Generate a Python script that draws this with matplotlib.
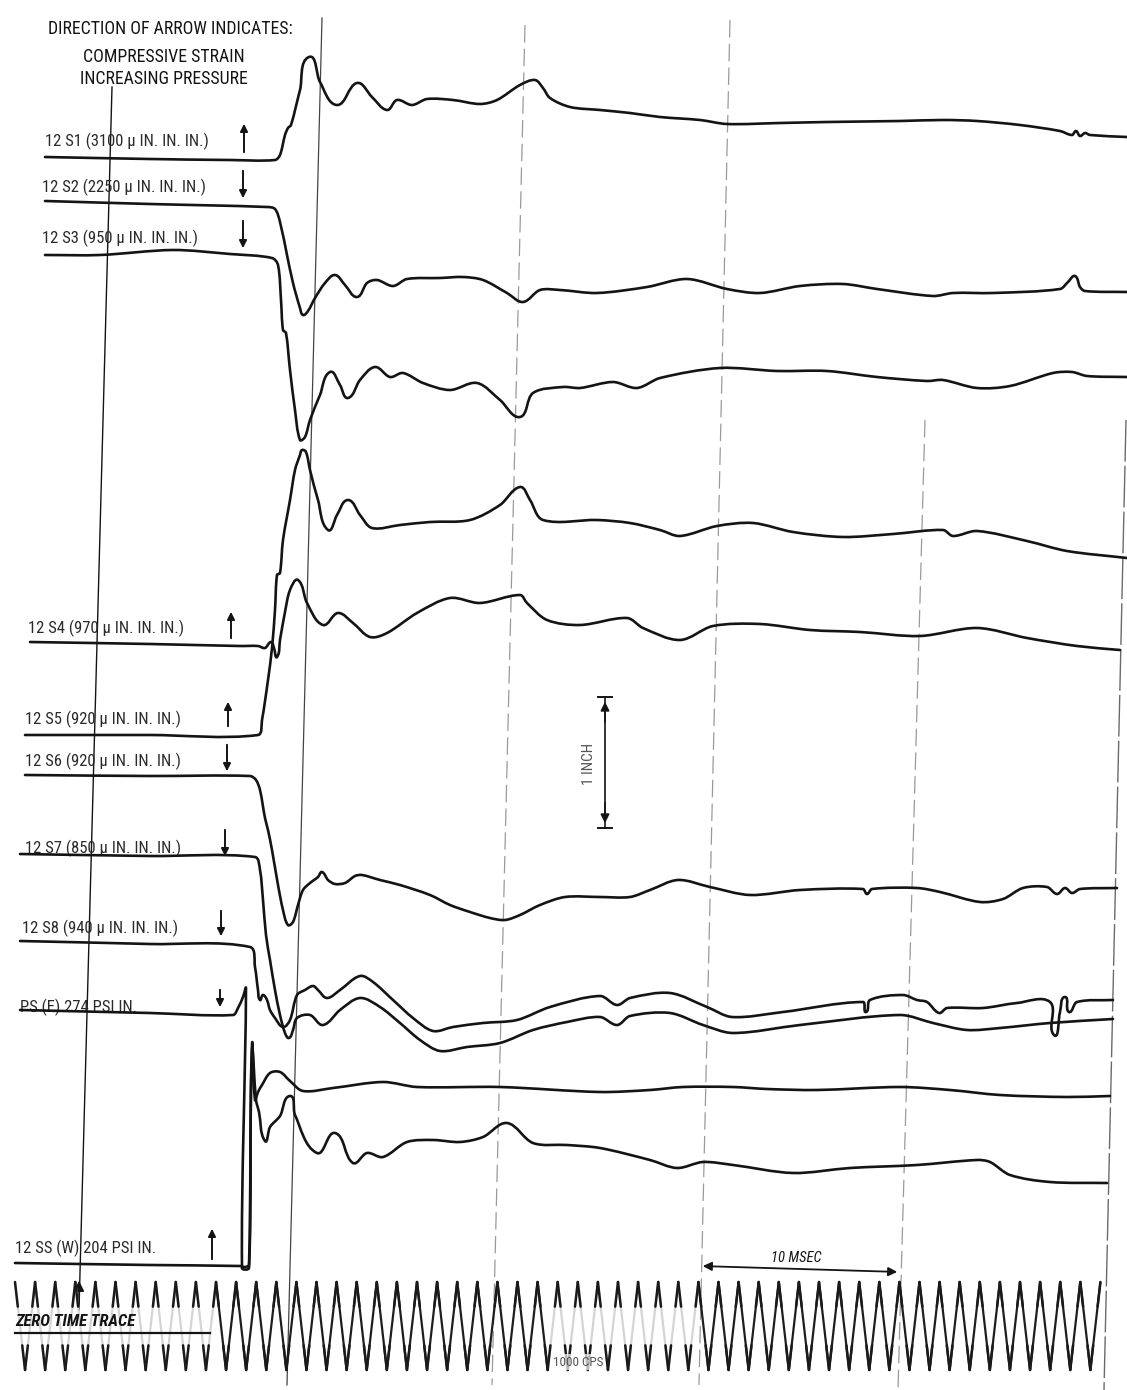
import numpy as np
import matplotlib
matplotlib.use("Agg")
import matplotlib.pyplot as plt
from matplotlib.collections import LineCollection
from matplotlib.path import Path
from matplotlib.patches import PathPatch

# ---------------------------------------------------------------------------
# Oscillograph record, gage channels 12 S1 ... 12 SS(W)
# Record coordinates: x = position along the record (20 units = 1 msec),
#                     y = position across the record (130 units = 1 inch)
# ---------------------------------------------------------------------------

channel_labels = [
    "12 S1 (3100 \u03bc IN. IN. IN.)",
    "12 S2 (2250 \u03bc IN. IN. IN.)",
    "12 S3 (950 \u03bc IN. IN. IN.)",
    "12 S4 (970 \u03bc IN. IN. IN.)",
    "12 S5 (920 \u03bc IN. IN. IN.)",
    "12 S6 (920 \u03bc IN. IN. IN.)",
    "12 S7 (850 \u03bc IN. IN. IN.)",
    "12 S8 (940 \u03bc IN. IN. IN.)",
    "PS (E) 274 PSI IN.",
    "12 SS (W) 204 PSI IN.",
]
arrow_direction = ["up", "down", "down", "up", "up", "down", "down", "down", "down", "up"]

s1_x = [45, 150, 230, 275, 280, 285, 288, 291, 300, 309, 320, 337, 357, 372, 387, 397, 412, 427,
        453, 480, 497, 520, 535, 543, 550, 570, 600, 630, 660, 700, 727, 780, 827, 900, 943, 977,
        1020, 1060, 1072, 1076, 1080, 1085, 1090, 1127]
s1_y = [157, 159, 160, 160, 155, 135, 128, 125, 90, 57, 82, 105, 83, 97, 110, 100, 105, 99,
        100, 104, 100, 85, 80, 88, 98, 107, 110, 113, 117, 120, 124, 123, 122, 121, 120, 121,
        125, 131, 135, 131, 136, 133, 135, 137]

s2_x = [45, 150, 267, 275, 280, 287, 293, 300, 303, 308, 315, 325, 335, 345, 357, 367, 377, 393,
        407, 440, 463, 483, 507, 523, 540, 560, 597, 647, 687, 727, 760, 800, 843, 877, 933, 953,
        993, 1060, 1068, 1075, 1080, 1085, 1127]
s2_y = [201, 204, 207, 209, 222, 255, 283, 308, 315, 311, 298, 283, 275, 285, 297, 283, 280, 286,
        279, 278, 277, 280, 293, 302, 290, 290, 293, 287, 279, 289, 293, 286, 284, 289, 296, 293,
        293, 289, 282, 276, 287, 291, 292]

s3_x = [45, 100, 173, 230, 272, 278, 281, 283, 286, 290, 295, 300, 305, 310, 320, 330, 340, 348,
        360, 375, 390, 403, 423, 450, 477, 500, 520, 533, 563, 580, 613, 637, 660, 720, 777, 827,
        877, 927, 943, 977, 1010, 1053, 1072, 1087, 1127]
s3_y = [255, 255, 250, 254, 258, 265, 300, 330, 333, 370, 410, 440, 437, 420, 395, 372, 385, 398,
        380, 367, 377, 373, 383, 390, 383, 400, 417, 393, 387, 388, 382, 388, 378, 368, 371, 371,
        377, 381, 380, 388, 386, 373, 372, 376, 377]

s4_x = [30, 150, 240, 258, 265, 271, 274, 277, 280, 285, 290, 298, 307, 323, 338, 353, 370, 387,
        417, 450, 480, 520, 527, 547, 580, 627, 643, 680, 713, 760, 810, 860, 920, 977, 1027,
        1077, 1120]
s4_y = [642, 644, 646, 646, 648, 642, 648, 657, 640, 612, 590, 580, 603, 625, 613, 623, 637, 633,
        613, 598, 603, 595, 603, 620, 625, 618, 628, 640, 626, 624, 630, 632, 636, 628, 638,
        646, 650]

s5_x = [25, 150, 258, 262, 268, 272, 275, 277, 280, 283, 290, 295, 300, 302, 306, 310, 318, 328,
        337, 348, 360, 372, 400, 430, 470, 500, 520, 530, 543, 597, 630, 660, 680, 717, 753, 793,
        843, 893, 943, 953, 977, 1027, 1067, 1127]
s5_y = [735, 735, 735, 720, 680, 648, 610, 575, 573, 540, 500, 470, 455, 450, 452, 470, 500, 530,
        515, 500, 515, 528, 525, 522, 520, 505, 487, 500, 520, 520, 523, 530, 536, 526, 523, 532,
        537, 534, 530, 536, 531, 541, 551, 558]

s6_x = [25, 150, 250, 256, 260, 265, 268, 272, 278, 283, 288, 293, 298, 303, 310, 318, 322, 328,
        335, 345, 355, 362, 380, 400, 430, 450, 470, 490, 505, 520, 540, 565, 600, 630, 650, 678,
        710, 750, 800, 863, 867, 872, 917, 940, 980, 1003, 1023, 1047, 1057, 1065, 1072, 1080,
        1117]
s6_y = [775, 776, 776, 780, 790, 818, 830, 850, 885, 910, 925, 922, 905, 890, 883, 877, 872, 880,
        884, 883, 876, 875, 880, 885, 895, 905, 912, 918, 920, 915, 905, 897, 897, 897, 890, 880,
        887, 895, 890, 889, 894, 889, 888, 892, 902, 899, 888, 887, 894, 888, 893, 889, 888]

s7_x = [20, 150, 255, 260, 263, 266, 270, 275, 280, 285, 289, 293, 297, 310, 323, 340, 360, 380,
        400, 420, 440, 467, 500, 533, 567, 600, 617, 630, 670, 703, 733, 800, 900, 933, 967,
        1000, 1050, 1113]
s7_y = [854, 856, 857, 870, 900, 935, 960, 990, 1015, 1033, 1038, 1030, 1018, 1015, 1025, 1010,
        998, 1007, 1023, 1040, 1051, 1047, 1043, 1030, 1022, 1017, 1025, 1016, 1013, 1025, 1033,
        1025, 1015, 1023, 1030, 1028, 1023, 1019]

s8_x = [20, 150, 250, 255, 258, 260, 263, 267, 270, 275, 283, 290, 297, 305, 313, 318, 327, 340,
        360, 373, 393, 413, 433, 453, 483, 517, 550, 600, 617, 630, 670, 707, 732, 783, 863, 866,
        870, 903, 917, 927, 939, 947, 983, 1017, 1050, 1054, 1060, 1065, 1069, 1077, 1113]
s8_y = [941, 944, 947, 967, 990, 1000, 995, 1000, 1010, 1018, 1027, 1020, 995, 990, 986, 990,
        998, 990, 976, 982, 1000, 1018, 1031, 1027, 1023, 1020, 1007, 996, 1005, 998, 993, 1007,
        1017, 1012, 1002, 1012, 1000, 995, 1000, 1002, 1013, 1008, 1008, 1003, 1002, 1035, 1012,
        997, 1012, 1002, 1000]

pse_x = [20, 150, 233, 238, 243, 246, 242, 249, 252, 256, 259, 265, 270, 280, 290, 295, 317, 335,
         353, 367, 383, 407, 433, 460, 483, 507, 533, 567, 600, 650, 677, 703, 733, 793, 850, 917,
         977, 990, 1010, 1050, 1107]
pse_y = [1010, 1013, 1015, 1008, 997, 988, 1268, 1268, 1050, 1100, 1112, 1141, 1127, 1116, 1096,
         1115, 1153, 1133, 1163, 1153, 1157, 1142, 1140, 1142, 1137, 1123, 1143, 1145, 1148, 1160,
         1168, 1162, 1165, 1173, 1168, 1165, 1160, 1162, 1175, 1182, 1183]

ssw_x = [15, 150, 240, 245, 249, 252, 255, 258, 262, 270, 280, 290, 303, 333, 383, 417, 500, 600,
         650, 683, 733, 767, 817, 900, 950, 1000, 1067, 1110]
ssw_y = [1263, 1265, 1266, 1267, 1265, 1045, 1100, 1092, 1085, 1073, 1072, 1081, 1091, 1088,
         1082, 1087, 1087, 1092, 1090, 1087, 1087, 1089, 1090, 1087, 1090, 1095, 1097, 1096]

traces = [(s1_x, s1_y), (s2_x, s2_y), (s3_x, s3_y), (s4_x, s4_y), (s5_x, s5_y),
          (s6_x, s6_y), (s7_x, s7_y), (s8_x, s8_y), (pse_x, pse_y), (ssw_x, ssw_y)]

# 10 msec timing lines (top and bottom ends of each hairline)
timing_line_top = [(322, 18), (525, 25), (730, 20), (925, 420), (1126, 420)]
timing_line_bottom = [(287, 1385), (492, 1385), (699, 1385), (898, 1390), (1104, 1390)]

TIMING_CPS = 1000            # frequency of the timing trace
UNITS_PER_MS = 20.1          # record units per millisecond

# ---------------------------------------------------------------------------
W, H = 1127, 1390
fig = plt.figure(figsize=(W / 100, H / 100), dpi=100)
ax = fig.add_axes([0, 0, 1, 1])
ax.set_xlim(0, W)
ax.set_ylim(H, 0)
ax.axis("off")

FONT = ["Roboto Condensed", "DejaVu Sans"]
INK = "#141414"


def trace_path(x, y):
    """Smooth pen path through the recorded points (cubic segments)."""
    p = np.column_stack([x, y]).astype(float)
    verts, codes = [p[0]], [Path.MOVETO]
    n = len(p)
    for i in range(n - 1):
        p0 = p[i - 1] if i > 0 else p[i]
        p1, p2 = p[i], p[i + 1]
        p3 = p[i + 2] if i + 2 < n else p[i + 1]
        d = np.hypot(*(p2 - p1))
        t1, t2 = p2 - p0, p3 - p1
        n1, n2 = np.hypot(*t1), np.hypot(*t2)
        c1 = p1 + (t1 / n1) * d / 3.2 if n1 > 0 else p1
        c2 = p2 - (t2 / n2) * d / 3.2 if n2 > 0 else p2
        verts += [c1, c2, p2]
        codes += [Path.CURVE4] * 3
    return Path(verts, codes)


# timing hairlines
styles = [dict(color="#444444", lw=0.9, ls="-"),
          dict(color="#9a9a9a", lw=0.9, ls=(0, (14, 5))),
          dict(color="#9a9a9a", lw=0.9, ls=(0, (14, 5))),
          dict(color="#9a9a9a", lw=0.9, ls=(0, (14, 5))),
          dict(color="#6a6a6a", lw=1.0, ls=(0, (30, 3)))]
for (x0, y0), (x1, y1), st in zip(timing_line_top, timing_line_bottom, styles):
    ax.plot([x0, x1], [y0, y1], zorder=1, **st)

# zero-time line with arrow mark on the timing trace
ax.plot([112, 79], [87, 1310], color=INK, lw=1.0, zorder=2)
ax.annotate("", xy=(79, 1278), xytext=(79, 1306),
            arrowprops=dict(arrowstyle="-|>", color=INK, lw=1.0, mutation_scale=16), zorder=3)

# gage traces
for x, y in traces:
    ax.add_patch(PathPatch(trace_path(x, y), facecolor="none", edgecolor=INK, lw=1.9,
                           joinstyle="round", capstyle="round", zorder=4))

# channel labels and direction arrows
label_pos = [(45, 141), (42, 187), (42, 238), (28, 628), (25, 719), (25, 761), (25, 848),
             (22, 928), (20, 1007), (15, 1248)]
arrow_pos = [(244, 155, 121), (243, 168, 201), (243, 218, 251), (231, 641, 609),
             (228, 729, 699), (227, 742, 774), (225, 827, 859), (221, 908, 939),
             (220, 987, 1010), (212, 1262, 1226)]
for text, (lx, ly), (axx, tail, tip), d in zip(channel_labels, label_pos, arrow_pos,
                                              arrow_direction):
    ax.text(lx, ly, text, fontsize=12, family=FONT, fontstretch="condensed", color="#2a2a2a",
            ha="left", va="center")
    ax.annotate("", xy=(axx, tip), xytext=(axx, tail),
                arrowprops=dict(arrowstyle="-|>", color=INK, lw=1.4, mutation_scale=11))

# heading
head = dict(fontsize=12.8, family=FONT, fontstretch="condensed", color=INK, va="center")
ax.text(48, 29, "DIRECTION OF ARROW INDICATES:", ha="left", **head)
ax.text(164, 57, "COMPRESSIVE STRAIN", ha="center", **head)
ax.text(164, 79, "INCREASING PRESSURE", ha="center", **head)

# 1 inch deflection scale
ax.plot([605, 605], [697, 828], color=INK, lw=1.2)
ax.plot([598, 612], [697, 697], color=INK, lw=1.4)
ax.plot([598, 612], [828, 828], color=INK, lw=1.4)
ax.annotate("", xy=(605, 699), xytext=(605, 725),
            arrowprops=dict(arrowstyle="-|>", color=INK, lw=1.2, mutation_scale=13))
ax.annotate("", xy=(605, 826), xytext=(605, 800),
            arrowprops=dict(arrowstyle="-|>", color=INK, lw=1.2, mutation_scale=13))
ax.text(589, 764, "1 INCH", fontsize=11, family=FONT, fontstretch="condensed",
        color="#555555", rotation=90, ha="center", va="center")

# 10 msec bar
ax.annotate("", xy=(700, 1266), xytext=(900, 1272),
            arrowprops=dict(arrowstyle="<|-|>", color=INK, lw=1.3, mutation_scale=13))
ax.text(796, 1258, "10 MSEC", fontsize=10.5, family=FONT, fontstretch="condensed", color=INK,
        style="italic", ha="center", va="center")

# 1000 cps timing trace
period = UNITS_PER_MS * 1000.0 / TIMING_CPS
x_start, x_end = 15, 1106
y_top, y_bot = 1282, 1370
n_half = int((x_end - x_start) // (period / 2))
vx = x_start + np.arange(n_half + 1) * period / 2
vy = np.where(np.arange(n_half + 1) % 2 == 0, y_top, y_bot)

strokes, stroke_cols, tips = [], [], []
for i in range(n_half):
    p0 = np.array([vx[i], vy[i]])
    p1 = np.array([vx[i + 1], vy[i + 1]])
    xm = 0.5 * (p0[0] + p1[0])
    faint = xm < 215 or 545 < xm < 700
    strokes.append([p0, p1])
    stroke_cols.append("#d4d4d4" if faint else "#1e1e1e")
    f = 0.28
    tips.append([p0, p0 + f * (p1 - p0)])
    tips.append([p1, p1 + f * (p0 - p1)])
ax.add_collection(LineCollection(strokes, colors=stroke_cols, linewidths=1.6, zorder=3))
ax.add_collection(LineCollection(tips, colors="#1a1a1a", linewidths=1.8, zorder=3,
                                 capstyle="round"))

ax.text(15, 1321, "ZERO TIME TRACE", fontsize=12, family=FONT, fontstretch="condensed",
        color=INK, style="italic", fontweight="bold", ha="left", va="center", zorder=5)
ax.plot([15, 210], [1333, 1333], color=INK, lw=1.6, zorder=5)
ax.text(578, 1362, "1000 CPS", fontsize=9.5, family=FONT, fontstretch="condensed",
        color="#555555", ha="center", va="center", zorder=5,
        bbox=dict(facecolor="white", edgecolor="none", pad=1.0, alpha=0.7))

fig.savefig("out.png", dpi=100, facecolor="white")
